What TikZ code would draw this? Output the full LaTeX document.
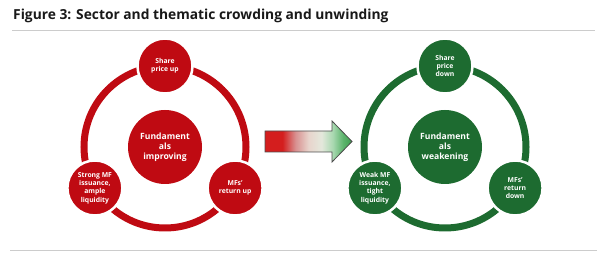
\documentclass[tikz,border=0pt]{standalone}
\usepackage{fontspec}
\setmainfont{Open Sans}
\definecolor{redc}{HTML}{BF0A12}
\definecolor{greenc}{HTML}{1D6B30}
\definecolor{arrred}{HTML}{D41E1E}
\definecolor{arrpink}{HTML}{D89090}
\definecolor{arrpale}{HTML}{E8D4CC}
\definecolor{arrmid}{HTML}{E4E8DC}
\definecolor{arrlg}{HTML}{A8D8B0}
\definecolor{arrmg}{HTML}{5CB46C}
\definecolor{arrgreen}{HTML}{3E9E50}
\pgfdeclarehorizontalshading{arrowshade}{100bp}{color(0bp)=(arrred); color(25bp)=(arrred); color(35bp)=(arrred); color(42.5bp)=(arrpink); color(50bp)=(arrpale); color(57.5bp)=(arrmid); color(64bp)=(arrlg); color(70bp)=(arrmg); color(75bp)=(arrgreen); color(100bp)=(arrgreen)}
\begin{document}
\begin{tikzpicture}[x=1pt,y=-1pt,
  hub/.style={circle, fill=#1, minimum size=74pt, inner sep=0pt, text=white,
    font=\bfseries\fontsize{8.6}{10}\selectfont, align=center},
  sat/.style={circle, fill=#1, draw=white, line width=2.5pt, minimum size=55pt,
    inner sep=0pt, text=white, font=\bfseries\fontsize{6.8}{8.3}\selectfont, align=center},
  ring/.style={draw=#1, line width=7pt},
  rule/.style={draw=black!20, line width=0.8pt}]
\useasboundingbox (0,0) rectangle (597,253);

% title and rules
\node[anchor=base west, inner sep=0pt, font=\bfseries\fontsize{13.8}{15}\selectfont, text=black!90] (title) at (13,20) {Figure 3: Sector and thematic crowding and unwinding};
\coordinate (t1) at (12,30); \coordinate (t2) at (595,30);
\coordinate (b1) at (10,250); \coordinate (b2) at (597,250);
\draw[rule] (t1) -- (t2);
\draw[rule] (b1) -- (b2);

% left cycle
\coordinate (lc) at (165,147);
\draw[ring=redc] (lc) circle[radius=81pt];
\node[hub=redc] (lhub) at (lc) {Fundament\\als\\improving};
\node[sat=redc] (ltop) at (165,66) {Share\\price up};
\node[sat=redc] (lbl) at (94.9,188) {Strong MF\\issuance,\\ample\\liquidity};
\node[sat=redc] (lbr) at (235.1,188) {MFs'\\return up};

% right cycle
\coordinate (rc) at (445,147);
\draw[ring=greenc] (rc) circle[radius=81pt];
\node[hub=greenc] (rhub) at (rc) {Fundament\\als\\weakening};
\node[sat=greenc] (rtop) at (445,66) {Share\\price\\down};
\node[sat=greenc] (rbl) at (374.9,188) {Weak MF\\issuance,\\tight\\liquidity};
\node[sat=greenc] (rbr) at (515.1,188) {MFs'\\return\\down};

% transition arrow
\shadedraw[shading=arrowshade, draw=black!70, line width=0.8pt]
  (265,131) -- (332,131) -- (332,121) -- (352,141.5) -- (332,162) -- (332,152) -- (265,152) -- cycle;
\end{tikzpicture}
\end{document}
